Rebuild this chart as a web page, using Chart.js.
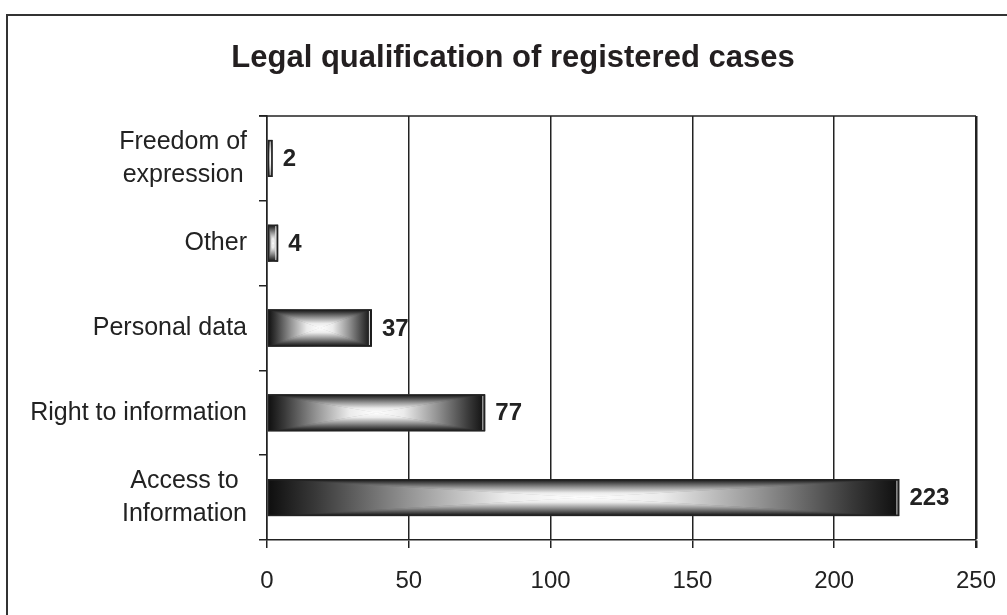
<!DOCTYPE html>
<html><head><meta charset="utf-8">
<script src="https://cdn.jsdelivr.net/npm/chart.js@4.4.1/dist/chart.umd.min.js"></script>
<style>html,body{margin:0;padding:0;background:#fff;overflow:hidden}#wrap{width:1007px;height:615px;position:relative}canvas{display:block}</style>
</head><body><div id="wrap"><canvas id="c" width="1007" height="615"></canvas></div>
<script>
const categories = [["Freedom of","expression"],["Other"],["Personal data"],["Right to information"],["Access to","Information"]];
const caseCounts = [2, 4, 37, 77, 223];
const xTickValues = [0, 50, 100, 150, 200, 250];
const chartTitle = "Legal qualification of registered cases";

const FONT = '"Liberation Sans", Arial, sans-serif';
const INK = '#222222';

const framePlugin = {
  id: 'frame',
  beforeDraw(chart) {
    const ctx = chart.ctx;
    ctx.save();
    ctx.fillStyle = '#fff';
    ctx.fillRect(0, 0, chart.width, chart.height);
    ctx.strokeStyle = '#333';
    ctx.lineWidth = 2;
    ctx.strokeRect(7, 15, 1100, 700);
    ctx.restore();
  },
  afterDraw(chart) {
    const ctx = chart.ctx, a = chart.chartArea;
    ctx.save();
    ctx.strokeStyle = INK;
    ctx.lineWidth = 1.5;
    ctx.beginPath();
    ctx.moveTo(a.left - 8, a.top);
    ctx.lineTo(a.right, a.top);
    ctx.stroke();
    // category labels: block right-aligned, each line centred within the block
    const ys = chart.scales.y;
    ctx.font = '25px ' + FONT;
    ctx.fillStyle = INK;
    ctx.textBaseline = 'middle';
    ctx.textAlign = 'center';
    const right = a.left - 20, lineH = 33.5;
    categories.forEach((lines, i) => {
      const y = ys.getPixelForValue(i);
      const maxW = Math.max(...lines.map(l => ctx.measureText(l).width));
      lines.forEach((l, j) => {
        ctx.fillText(l, right - maxW / 2, y + (j - (lines.length - 1) / 2) * lineH);
      });
    });
    ctx.restore();
  }
};

const barFillPlugin = {
  id: 'barFill',
  beforeDatasetsDraw(chart) {
    const ctx = chart.ctx;
    const stops = [[0,'#0e0e0e'],[0.15,'#383838'],[0.45,'#959595'],[0.75,'#ebebeb'],[1,'#ffffff']];
    chart.getDatasetMeta(0).data.forEach(bar => {
      const p = bar.getProps(['x','y','base','height'], true);
      const l = Math.min(p.base, p.x), r = Math.max(p.base, p.x);
      const t = p.y - p.height / 2, b = p.y + p.height / 2;
      const cx = (l + r) / 2, cy = (t + b) / 2;
      const grad = (x0, y0, x1, y1) => {
        const g = ctx.createLinearGradient(x0, y0, x1, y1);
        stops.forEach(s => g.addColorStop(s[0], s[1]));
        return g;
      };
      const tri = (pts, g) => {
        ctx.beginPath();
        ctx.moveTo(pts[0][0], pts[0][1]);
        ctx.lineTo(pts[1][0], pts[1][1]);
        ctx.lineTo(pts[2][0], pts[2][1]);
        ctx.closePath();
        ctx.fillStyle = g;
        ctx.fill();
      };
      ctx.save();
      ctx.beginPath();
      ctx.rect(l, t, r - l, b - t);
      ctx.clip();
      const hg = ctx.createLinearGradient(l, 0, r, 0);
      hg.addColorStop(0, '#101010'); hg.addColorStop(0.5, '#dddddd'); hg.addColorStop(1, '#101010');
      ctx.fillStyle = hg;
      ctx.fillRect(l, t, r - l, b - t);
      tri([[l,t],[l,b],[cx,cy]], grad(l, cy, cx, cy));
      tri([[r,t],[r,b],[cx,cy]], grad(r, cy, cx, cy));
      tri([[l,t],[r,t],[cx,cy]], grad(cx, t, cx, cy));
      tri([[l,b],[r,b],[cx,cy]], grad(cx, b, cx, cy));
      // thin highlight just inside the bar end
      ctx.fillStyle = 'rgba(255,255,255,0.85)';
      ctx.fillRect(r - 3, t + 1.5, 1, b - t - 3);
      ctx.restore();
    });
  },
  afterDatasetsDraw(chart) {
    const ctx = chart.ctx;
    ctx.save();
    ctx.font = 'bold 24px ' + FONT;
    ctx.fillStyle = INK;
    ctx.textBaseline = 'middle';
    ctx.textAlign = 'left';
    chart.getDatasetMeta(0).data.forEach((bar, i) => {
      const p = bar.getProps(['x','y'], true);
      ctx.fillText(String(caseCounts[i]), p.x + 10, p.y + 1);
    });
    ctx.restore();
  }
};

new Chart(document.getElementById('c'), {
  type: 'bar',
  data: {
    labels: categories,
    datasets: [{
      data: caseCounts,
      backgroundColor: 'rgba(0,0,0,0)',
      borderColor: INK,
      borderWidth: 1.5,
      borderSkipped: false,
      barPercentage: 0.44,
      categoryPercentage: 1
    }]
  },
  options: {
    indexAxis: 'y',
    responsive: false,
    animation: false,
    devicePixelRatio: 1,
    layout: { padding: { top: 0, right: 31, bottom: 0, left: 50 } },
    plugins: {
      legend: { display: false },
      tooltip: { enabled: false },
      title: {
        display: true,
        text: chartTitle,
        color: '#231f20',
        font: { family: FONT, size: 31, weight: 'bold' },
        padding: { top: 40, bottom: 38.8 }
      }
    },
    scales: {
      x: {
        type: 'linear',
        min: 0, max: 250,
        afterBuildTicks(scale) { scale.ticks = xTickValues.map(v => ({ value: v })); },
        afterFit(scale) { scale.height = 75; scale.paddingLeft = 0; scale.paddingRight = 0; },
        ticks: { color: INK, font: { family: FONT, size: 24 }, padding: 19 },
        grid: {
          color: INK,
          lineWidth: c => (c.tick && c.tick.value === 250 ? 2.5 : 1.5),
          tickLength: 8
        },
        border: { display: true, color: INK, width: 1.5 }
      },
      y: {
        type: 'category',
        offset: true,
        afterFit(scale) { scale.width = 217; scale.paddingTop = 0; scale.paddingBottom = 0; },
        ticks: { display: false },
        grid: { offset: true, drawOnChartArea: false, drawTicks: true, tickLength: 8, color: INK, lineWidth: 1.5 },
        border: { display: true, color: INK, width: 1.5 }
      }
    }
  },
  plugins: [framePlugin, barFillPlugin]
});
</script>
</body></html>
